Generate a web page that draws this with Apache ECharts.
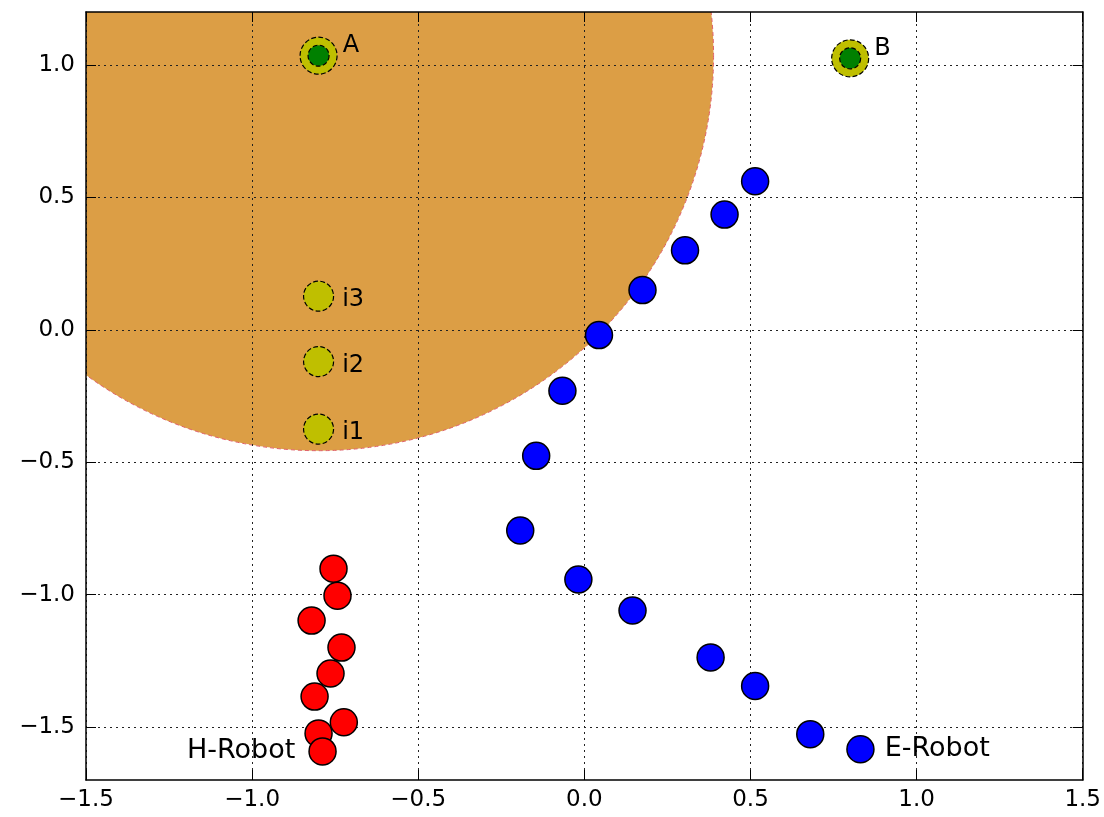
<!DOCTYPE html>
<html><head><meta charset="utf-8">
<script src="https://cdn.jsdelivr.net/npm/echarts@6/dist/echarts.min.js"></script>
<style>html,body{margin:0;padding:0;background:#fff}#c{width:1104px;height:817px}</style>
</head><body><div id="c"></div>
<script>
// ---- data ----
const xTicks = [-1.5, -1.0, -0.5, 0, 0.5, 1.0, 1.5];
const yTicks = [-1.5, -1.0, -0.5, 0, 0.5, 1.0];
const xRange = [-1.5, 1.5];
const yRange = [-1.7, 1.2];
const zoneCenter = [-0.8, 1.035];
const targetNames = ['A', 'B'];
const targetX = [-0.8, 0.8];
const targetY = [1.035, 1.025];
const interNames = ['i1', 'i2', 'i3'];
const interX = [-0.8, -0.8, -0.8];
const interY = [-0.375, -0.12, 0.127];
const eRobotX = [0.514, 0.422, 0.303, 0.175, 0.044, -0.066, -0.145, -0.193, -0.018, 0.145, 0.380, 0.514, 0.680, 0.831];
const eRobotY = [0.561, 0.435, 0.300, 0.150, -0.020, -0.230, -0.476, -0.758, -0.943, -1.060, -1.237, -1.345, -1.527, -1.584];
const hRobotX = [-0.755, -0.743, -0.821, -0.731, -0.764, -0.812, -0.724, -0.800, -0.788];
const hRobotY = [-0.902, -1.004, -1.098, -1.200, -1.298, -1.385, -1.482, -1.524, -1.592];
const eRobotLabel = 'E-Robot';
const hRobotLabel = 'H-Robot';

// ---- chart ----
const FONT = 'DejaVu Sans';
const fmt = v => (v < 0 ? '\u2212' : '') + Math.abs(v).toFixed(1);
const chart = echarts.init(document.getElementById('c'), null, {renderer: 'canvas'});

function robotData(xs, ys, label, side, dist) {
  return xs.map((x, i) => {
    const item = {value: [x, ys[i]]};
    if (i === xs.length - 1) {
      item.label = {show: true, formatter: label, position: side, distance: dist,
        fontFamily: FONT, fontSize: 27, color: '#000'};
    }
    return item;
  });
}

const axisCommon = {
  axisLine: {show: true, onZero: false, lineStyle: {color: '#000', width: 1.5}},
  axisTick: {show: true, inside: true, length: 10, lineStyle: {color: '#000', width: 1}},
};

const option = {
  animation: false,
  backgroundColor: '#fff',
  grid: {left: 86, top: 12, right: 21, bottom: 37, containLabel: false},
  xAxis: [
    Object.assign({}, axisCommon, {
      type: 'value', position: 'bottom', min: xRange[0], max: xRange[1], interval: 0.5,
      axisLabel: {show: true, formatter: fmt, fontFamily: FONT, fontSize: 23, color: '#000', margin: 9,
        showMinLabel: true, showMaxLabel: true},
      splitLine: {show: true, lineStyle: {color: '#222', width: 1, type: [2, 4]}}
    }),
    Object.assign({}, axisCommon, {
      type: 'value', position: 'top', min: xRange[0], max: xRange[1], interval: 0.5,
      axisLabel: {show: false}, splitLine: {show: false}
    })
  ],
  yAxis: [
    Object.assign({}, axisCommon, {
      type: 'value', position: 'left', min: yRange[0], max: yRange[1],
      axisTick: Object.assign({}, axisCommon.axisTick, {customValues: yTicks}),
      axisLabel: {show: true, customValues: yTicks, formatter: fmt, fontFamily: FONT, fontSize: 23, color: '#000', margin: 11},
      splitLine: {show: true, lineStyle: {color: '#222', width: 1, type: [2, 4]}}
    }),
    Object.assign({}, axisCommon, {
      type: 'value', position: 'right', min: yRange[0], max: yRange[1],
      axisTick: Object.assign({}, axisCommon.axisTick, {customValues: yTicks}),
      axisLabel: {show: false}, splitLine: {show: false}
    })
  ],
  series: [
    {
      type: 'custom', z: -1, clip: true, silent: true,
      data: [zoneCenter],
      encode: {x: 0, y: 1},
      renderItem: function (params, api) {
        const c = api.coord([api.value(0), api.value(1)]);
        return {type: 'circle', shape: {cx: c[0], cy: c[1], r: 395},
          style: {fill: '#DC9E45', stroke: '#E0606A', lineWidth: 1, lineDash: [4, 3]}};
      }
    },
    {
      type: 'scatter', symbol: 'circle', symbolSize: 27,
      data: robotData(eRobotX, eRobotY, eRobotLabel, 'right', 10),
      itemStyle: {color: '#0000FF', borderColor: '#000', borderWidth: 1.5, opacity: 1}
    },
    {
      type: 'scatter', symbol: 'circle', symbolSize: 27,
      data: robotData(hRobotX, hRobotY, hRobotLabel, 'left', 13),
      itemStyle: {color: '#FF0000', borderColor: '#000', borderWidth: 1.5, opacity: 1}
    },
    {
      type: 'scatter', symbol: 'circle', symbolSize: 30,
      data: interX.map((x, i) => ({value: [x, interY[i]], name: interNames[i]})),
      itemStyle: {color: '#BFBF00', borderColor: '#000', borderWidth: 1.2, borderType: 'dashed', opacity: 1},
      label: {show: true, formatter: '{b}', position: 'right', distance: 8, offset: [0, 4],
        fontFamily: FONT, fontSize: 24, color: '#000'}
    },
    {
      type: 'scatter', symbol: 'circle', symbolSize: 37,
      data: targetX.map((x, i) => ({value: [x, targetY[i]], name: targetNames[i]})),
      itemStyle: {color: '#BFBF00', borderColor: '#000', borderWidth: 1.2, borderType: 'dashed', opacity: 1},
      label: {show: true, formatter: '{b}', position: 'right', distance: 5, offset: [0, -10],
        fontFamily: FONT, fontSize: 24, color: '#000'}
    },
    {
      type: 'scatter', symbol: 'circle', symbolSize: 21,
      data: targetX.map((x, i) => [x, targetY[i]]),
      itemStyle: {color: '#008000', borderColor: '#000', borderWidth: 1.2, borderType: 'dashed', opacity: 1}
    }
  ]
};
chart.setOption(option);
</script>
</body></html>
